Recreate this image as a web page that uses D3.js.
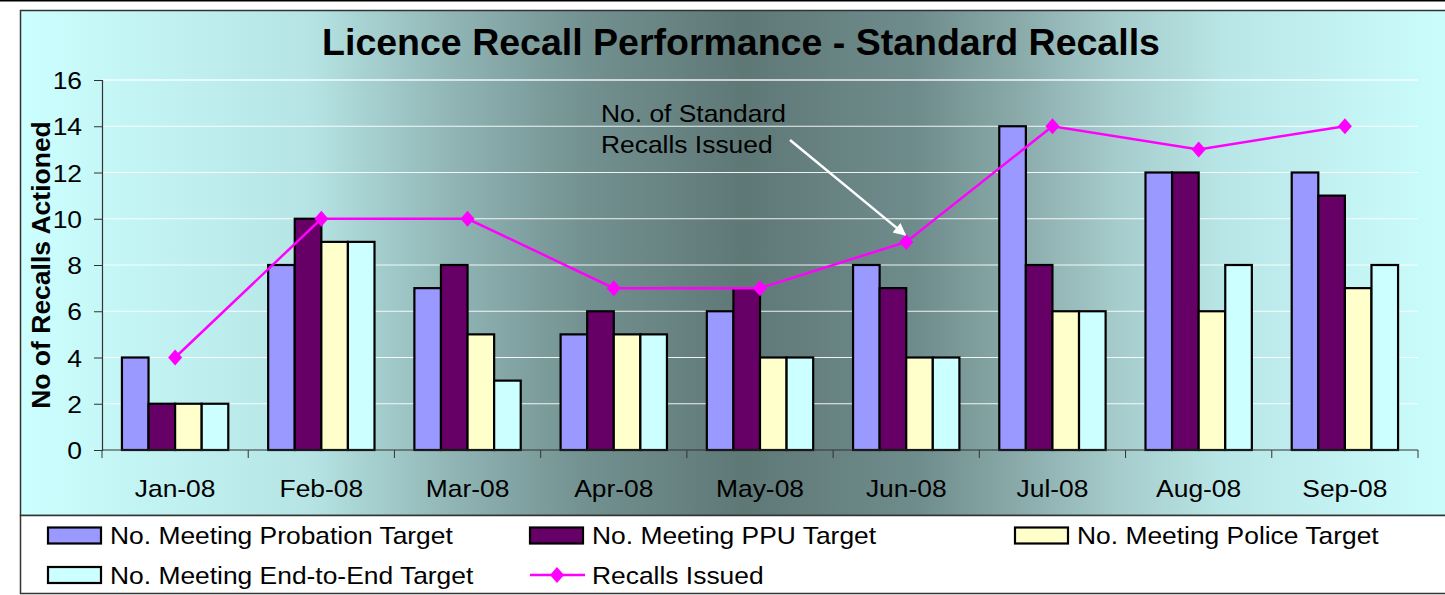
<!DOCTYPE html>
<html>
<head>
<meta charset="utf-8">
<script src="https://cdn.jsdelivr.net/npm/d3@7"></script>
<style>
  html, body { margin: 0; padding: 0; background: #fff; }
  svg { display: block; font-family: "Liberation Sans", Arial, sans-serif; }
</style>
</head>
<body>
<div id="chart"></div>
<script>
// データ
const months = ["Jan-08", "Feb-08", "Mar-08", "Apr-08", "May-08", "Jun-08", "Jul-08", "Aug-08", "Sep-08"];
const probation = [4, 8, 7, 5, 6, 8, 14, 12, 12];
const ppu = [2, 10, 8, 6, 7, 7, 8, 12, 11];
const police = [2, 9, 5, 5, 4, 4, 6, 6, 7];
const endToEnd = [2, 9, 3, 5, 4, 4, 6, 8, 8];
const recalls = [4, 10, 10, 7, 7, 9, 14, 13, 14];
const yTicks = [0, 2, 4, 6, 8, 10, 12, 14, 16];

const seriesNames = ["No. Meeting Probation Target", "No. Meeting PPU Target",
                     "No. Meeting Police Target", "No. Meeting End-to-End Target"];
const seriesValues = [probation, ppu, police, endToEnd];
const seriesColors = ["#9999ff", "#660066", "#ffffcc", "#ccffff"];
const lineName = "Recalls Issued";

const W = 1445, H = 595;
// 横方向に少し伸ばした文字（元の図の文字幅に合わせる）
const stretch = 1.1;
const fs = 24;

const svg = d3.select("#chart").append("svg")
    .attr("width", W)
    .attr("height", H);

// 背景グラデーション
const defs = svg.append("defs");
const grad = defs.append("linearGradient")
    .attr("id", "bg")
    .attr("x1", "0").attr("y1", "0").attr("x2", "1").attr("y2", "0");
[[0, "#ccffff"], [0.2, "#b6e4e4"], [0.3, "#90b4b4"], [0.39, "#739191"],
 [0.5, "#5e7876"], [0.62, "#6f8c8c"], [0.69, "#8aaaaa"], [0.76, "#a6cccc"],
 [0.83, "#b8e5e5"], [0.9, "#c2f0f0"], [1, "#ccffff"]].forEach(function(s){
    grad.append("stop").attr("offset", s[0]).attr("stop-color", s[1]);
});

// 矢印
defs.append("marker")
    .attr("id", "arrow")
    .attr("viewBox", "0 0 10 10")
    .attr("refX", 9).attr("refY", 5)
    .attr("markerWidth", 6).attr("markerHeight", 5)
    .attr("markerUnits", "strokeWidth")
    .attr("orient", "auto")
    .append("path")
    .attr("d", "M0,0 L10,5 L0,10 z")
    .attr("fill", "#fff");

// ページ上端の線
svg.append("line")
    .attr("x1", 0).attr("x2", W).attr("y1", 0.5).attr("y2", 0.5)
    .attr("stroke", "#000").attr("stroke-width", 2);

// チャート枠
svg.append("rect")
    .attr("x", 20.5).attr("y", 10.5)
    .attr("width", W).attr("height", 505)
    .attr("fill", "url(#bg)")
    .attr("stroke", "#333").attr("stroke-width", 1.5);

// 凡例枠
svg.append("rect")
    .attr("x", 20.5).attr("y", 515.5)
    .attr("width", W).attr("height", 78)
    .attr("fill", "#fff")
    .attr("stroke", "#333").attr("stroke-width", 1.5);

// タイトル
svg.append("text")
    .attr("x", 741).attr("y", 55)
    .attr("text-anchor", "middle")
    .attr("font-size", 37.5)
    .attr("font-weight", "bold")
    .text("Licence Recall Performance - Standard Recalls");

// スケール
const x = d3.scaleBand().domain(months).range([102, 1418]).padding(0);
const xs = d3.scaleBand().domain(d3.range(seriesNames.length))
    .range([0, x.bandwidth()]).paddingInner(0).paddingOuter(0.75);
const y = d3.scaleLinear().domain([0, 16]).range([450, 80]);

// 目盛線
svg.append("g").selectAll("line")
    .data(yTicks.filter(d => d > 0))
    .enter().append("line")
    .attr("x1", 102).attr("x2", 1418)
    .attr("y1", d => y(d)).attr("y2", d => y(d))
    .attr("stroke", "#fff")
    .attr("stroke-width", d => d === 16 ? 1.5 : 1)
    .attr("opacity", 0.9);

// 棒
const groups = svg.append("g").selectAll("g")
    .data(months)
    .enter().append("g")
    .attr("transform", d => "translate(" + x(d) + ",0)");

groups.selectAll("rect")
    .data((m, i) => seriesValues.map((vals, s) => ({s: s, v: vals[i]})))
    .enter().append("rect")
    .attr("x", d => xs(d.s))
    .attr("y", d => y(d.v))
    .attr("width", xs.bandwidth())
    .attr("height", d => y(0) - y(d.v))
    .attr("fill", d => seriesColors[d.s])
    .attr("stroke", "#000")
    .attr("stroke-width", 2.2);

// Y軸
const yAxis = svg.append("g")
    .attr("transform", "translate(102,0)")
    .call(d3.axisLeft(y).tickValues(yTicks).tickSize(8).tickPadding(6));
yAxis.select(".domain").attr("stroke", "#333").attr("stroke-width", 1.2);
yAxis.selectAll(".tick line").attr("stroke", "#333");
yAxis.selectAll(".tick text")
    .attr("font-size", fs)
    .attr("fill", "#000")
    .attr("font-family", "Liberation Sans, Arial, sans-serif")
    .attr("dy", "0.36em")
    .attr("transform", "scale(" + stretch + ",1)")
    .attr("x", -20 / stretch);

// X軸
svg.append("line")
    .attr("x1", 102).attr("x2", 1418)
    .attr("y1", y(0)).attr("y2", y(0))
    .attr("stroke", "#333").attr("stroke-width", 1.2);
const xEdges = months.map(m => x(m)).concat([x.range()[1]]);
svg.append("g").selectAll("line")
    .data(xEdges)
    .enter().append("line")
    .attr("x1", d => d).attr("x2", d => d)
    .attr("y1", y(0)).attr("y2", y(0) + 8)
    .attr("stroke", "#333");
svg.append("g").selectAll("text")
    .data(months)
    .enter().append("text")
    .attr("transform", d => "translate(" + (x(d) + x.bandwidth() / 2) + ",497) scale(" + stretch + ",1)")
    .attr("text-anchor", "middle")
    .attr("font-size", fs)
    .text(d => d);

// Y軸タイトル
svg.append("text")
    .attr("transform", "translate(50," + y(8) + ") rotate(-90)")
    .attr("text-anchor", "middle")
    .attr("font-size", 26.5)
    .attr("font-weight", "bold")
    .text("No of Recalls Actioned");

// 折れ線
const cx = i => x(months[i]) + x.bandwidth() / 2;
const diamond = "M0,-8 L7,0 L0,8 L-7,0 Z";
svg.append("path")
    .datum(recalls)
    .attr("fill", "none")
    .attr("stroke", "#ff00ff")
    .attr("stroke-width", 2.5)
    .attr("d", d3.line().x((d, i) => cx(i)).y(d => y(d)));
svg.append("g").selectAll("path")
    .data(recalls)
    .enter().append("path")
    .attr("transform", (d, i) => "translate(" + cx(i) + "," + y(d) + ")")
    .attr("d", diamond)
    .attr("fill", "#ff00ff");

// 注記
const note = svg.append("g").attr("font-size", fs);
note.append("text")
    .attr("transform", "translate(601,122) scale(" + stretch + ",1)")
    .text("No. of Standard");
note.append("text")
    .attr("transform", "translate(601,153) scale(" + stretch + ",1)")
    .text("Recalls Issued");
svg.append("line")
    .attr("x1", 790).attr("y1", 140)
    .attr("x2", cx(5) - 1).attr("y2", y(recalls[5]) - 7)
    .attr("stroke", "#fff")
    .attr("stroke-width", 2.5)
    .attr("marker-end", "url(#arrow)");

// 凡例
const legendItems = [
    {type: "bar", s: 0, x: 48, row: 0},
    {type: "bar", s: 1, x: 530, row: 0},
    {type: "bar", s: 2, x: 1015, row: 0},
    {type: "bar", s: 3, x: 48, row: 1},
    {type: "line", x: 530, row: 1}
];
const rowY = [535.5, 575];
const lg = svg.append("g").selectAll("g")
    .data(legendItems)
    .enter().append("g")
    .attr("transform", d => "translate(" + d.x + "," + rowY[d.row] + ")");
lg.filter(d => d.type === "bar").append("rect")
    .attr("x", 0).attr("y", -8)
    .attr("width", 53).attr("height", 16)
    .attr("fill", d => seriesColors[d.s])
    .attr("stroke", "#000")
    .attr("stroke-width", 2.2);
const ll = lg.filter(d => d.type === "line");
ll.append("line")
    .attr("x1", 0).attr("x2", 55).attr("y1", 0).attr("y2", 0)
    .attr("stroke", "#ff00ff").attr("stroke-width", 2.5);
ll.append("path")
    .attr("transform", "translate(27,0)")
    .attr("d", diamond)
    .attr("fill", "#ff00ff");
lg.append("text")
    .attr("transform", "translate(62,8.5) scale(" + stretch + ",1)")
    .attr("font-size", fs)
    .text(d => d.type === "bar" ? seriesNames[d.s] : lineName);
</script>
</body>
</html>
